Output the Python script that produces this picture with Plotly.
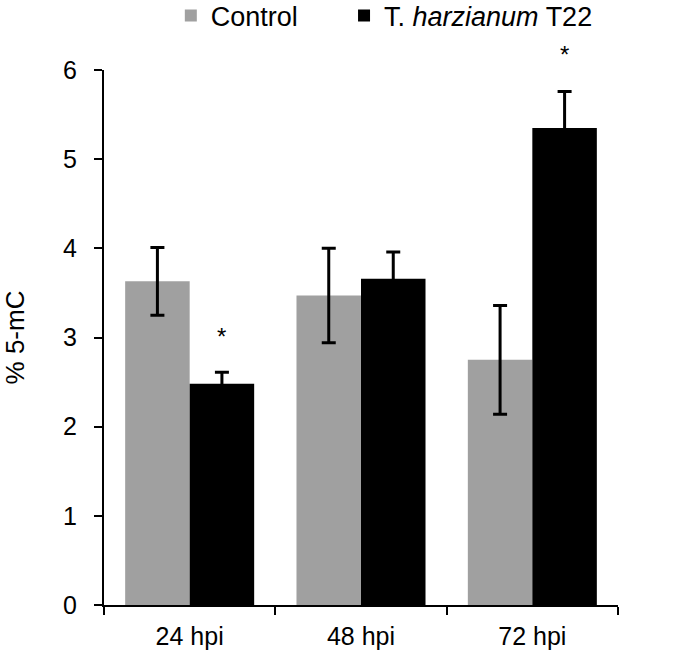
import plotly.graph_objects as go

categories = ["24 hpi", "48 hpi", "72 hpi"]
control = [3.63, 3.47, 2.75]
control_err = [0.38, 0.53, 0.61]
t22 = [2.48, 3.66, 5.35]
t22_err = [0.13, 0.30, 0.41]
sig_t22 = [True, False, True]
sig_y = [3.01, None, 6.17]

FONT = "Liberation Sans, Arial, sans-serif"
BARGAP = 0.247
Y_RANGE = [0, 6]
W, H = 685, 655

fig = go.Figure()
fig.add_trace(go.Bar(
    x=categories, y=control, name="Control", legend="legend",
    marker=dict(color="#a0a0a0", line=dict(width=0)),
    error_y=dict(type="data", array=control_err, color="black", thickness=3, width=7),
))
fig.add_trace(go.Bar(
    x=categories, y=t22, name="T. <i>harzianum</i> T22", legend="legend2",
    marker=dict(color="black", line=dict(width=0)),
    error_y=dict(type="data", array=t22_err, color="black", thickness=3, width=7),
))

offset = (1 - BARGAP) / 4
for i, (s, yv) in enumerate(zip(sig_t22, sig_y)):
    if s:
        fig.add_annotation(x=i + offset, xref="x",
                           y=(yv - Y_RANGE[0]) / (Y_RANGE[1] - Y_RANGE[0]), yref="paper",
                           text="*", showarrow=False,
                           font=dict(family=FONT, size=24, color="black"),
                           yanchor="middle")

legend_common = dict(orientation="h", yref="container", y=1 - 16 / H,
                     xanchor="left", yanchor="middle", font=dict(size=27),
                     itemwidth=30, bgcolor="rgba(0,0,0,0)")
fig.update_layout(
    width=W, height=H,
    margin=dict(l=104, r=67, t=70, b=50, autoexpand=False),
    paper_bgcolor="white", plot_bgcolor="white",
    barmode="group", bargap=BARGAP, bargroupgap=0,
    font=dict(family=FONT, size=25, color="black"),
    legend=dict(x=0.130, **legend_common),
    legend2=dict(x=0.467, **legend_common),
    showlegend=True,
)
fig.update_xaxes(
    type="category", showline=True, linecolor="black", linewidth=2,
    ticks="outside", tickson="boundaries", ticklen=8, tickwidth=2, tickcolor="black",
    showgrid=False, tickfont=dict(size=25), ticklabelstandoff=8,
)
fig.update_yaxes(
    range=Y_RANGE, dtick=1, showline=True, linecolor="black", linewidth=2,
    ticks="outside", ticklen=8, tickwidth=2, tickcolor="black",
    showgrid=False, zeroline=False, tickfont=dict(size=25), ticklabelstandoff=12,
    title=dict(text="% 5-mC", font=dict(size=26), standoff=31),
)

fig.write_html("out.html", config={"displayModeBar": False},
               post_script="document.body.style.margin='0px';")
